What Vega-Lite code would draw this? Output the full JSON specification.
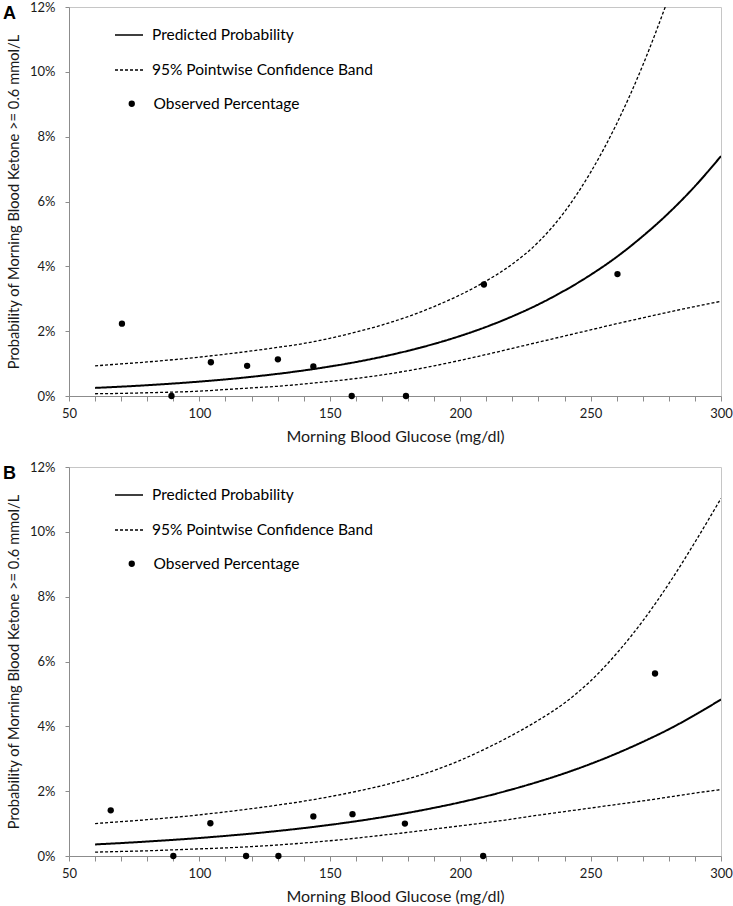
{
  "$schema": "https://vega.github.io/schema/vega-lite/v6.json",
  "background": "white",
  "padding": {"left": 2, "top": 0, "right": 2, "bottom": 0},
  "bounds": "flush",
  "spacing": 71,
  "config": {
    "font": "Lato",
    "view": {"stroke": "#c6c6c6", "strokeWidth": 1},
    "axis": {"domainColor": "#8c8c8c", "tickColor": "#8c8c8c", "grid": false, "labelFont": "Lato", "labelFontSize": 13, "labelColor": "#1a1a1a", "titleFont": "Lato", "titleFontSize": 15, "titleFontWeight": "normal", "titleColor": "#1a1a1a"},
    "line": {"interpolate": "monotone"}
  },
  "datasets": {
    "A": [
      {"x": 60, "pred": 0.250, "lo": 0.07, "hi": 0.93},
      {"x": 70, "pred": 0.288, "lo": 0.08, "hi": 0.99},
      {"x": 80, "pred": 0.333, "lo": 0.10, "hi": 1.05},
      {"x": 90, "pred": 0.385, "lo": 0.12, "hi": 1.12},
      {"x": 100, "pred": 0.444, "lo": 0.15, "hi": 1.20},
      {"x": 110, "pred": 0.512, "lo": 0.20, "hi": 1.29},
      {"x": 120, "pred": 0.592, "lo": 0.25, "hi": 1.39},
      {"x": 130, "pred": 0.683, "lo": 0.30, "hi": 1.50},
      {"x": 140, "pred": 0.788, "lo": 0.37, "hi": 1.62},
      {"x": 150, "pred": 0.909, "lo": 0.45, "hi": 1.78},
      {"x": 160, "pred": 1.048, "lo": 0.54, "hi": 1.97},
      {"x": 170, "pred": 1.209, "lo": 0.65, "hi": 2.19},
      {"x": 180, "pred": 1.395, "lo": 0.78, "hi": 2.45},
      {"x": 190, "pred": 1.608, "lo": 0.93, "hi": 2.76},
      {"x": 200, "pred": 1.852, "lo": 1.10, "hi": 3.12},
      {"x": 210, "pred": 2.133, "lo": 1.28, "hi": 3.55},
      {"x": 220, "pred": 2.457, "lo": 1.47, "hi": 4.07},
      {"x": 230, "pred": 2.826, "lo": 1.66, "hi": 4.75},
      {"x": 240, "pred": 3.252, "lo": 1.85, "hi": 5.68},
      {"x": 250, "pred": 3.737, "lo": 2.04, "hi": 6.90},
      {"x": 260, "pred": 4.29, "lo": 2.23, "hi": 8.40},
      {"x": 270, "pred": 4.93, "lo": 2.41, "hi": 10.2},
      {"x": 280, "pred": 5.65, "lo": 2.59, "hi": 12.3},
      {"x": 290, "pred": 6.47, "lo": 2.76, "hi": null},
      {"x": 300, "pred": 7.40, "lo": 2.92, "hi": null}
    ],
    "pA": [
      {"x": 70.3, "obs": 2.23},
      {"x": 89.3, "obs": 0},
      {"x": 104.4, "obs": 1.04},
      {"x": 118.3, "obs": 0.93},
      {"x": 130.1, "obs": 1.13},
      {"x": 143.7, "obs": 0.91},
      {"x": 158.4, "obs": 0},
      {"x": 179.2, "obs": 0},
      {"x": 209.1, "obs": 3.44},
      {"x": 260.3, "obs": 3.76}
    ],
    "B": [
      {"x": 60, "pred": 0.357, "lo": 0.12, "hi": 1.00},
      {"x": 70, "pred": 0.399, "lo": 0.14, "hi": 1.06},
      {"x": 80, "pred": 0.446, "lo": 0.16, "hi": 1.12},
      {"x": 90, "pred": 0.498, "lo": 0.19, "hi": 1.19},
      {"x": 100, "pred": 0.555, "lo": 0.22, "hi": 1.27},
      {"x": 110, "pred": 0.620, "lo": 0.25, "hi": 1.36},
      {"x": 120, "pred": 0.691, "lo": 0.29, "hi": 1.46},
      {"x": 130, "pred": 0.772, "lo": 0.34, "hi": 1.57},
      {"x": 140, "pred": 0.861, "lo": 0.40, "hi": 1.69},
      {"x": 150, "pred": 0.961, "lo": 0.47, "hi": 1.83},
      {"x": 160, "pred": 1.071, "lo": 0.55, "hi": 1.99},
      {"x": 170, "pred": 1.195, "lo": 0.64, "hi": 2.17},
      {"x": 180, "pred": 1.332, "lo": 0.73, "hi": 2.38},
      {"x": 190, "pred": 1.486, "lo": 0.83, "hi": 2.64},
      {"x": 200, "pred": 1.656, "lo": 0.93, "hi": 2.95},
      {"x": 210, "pred": 1.845, "lo": 1.03, "hi": 3.32},
      {"x": 220, "pred": 2.058, "lo": 1.14, "hi": 3.73},
      {"x": 230, "pred": 2.293, "lo": 1.26, "hi": 4.19},
      {"x": 240, "pred": 2.551, "lo": 1.37, "hi": 4.72},
      {"x": 250, "pred": 2.841, "lo": 1.48, "hi": 5.40},
      {"x": 260, "pred": 3.164, "lo": 1.59, "hi": 6.25},
      {"x": 270, "pred": 3.521, "lo": 1.70, "hi": 7.25},
      {"x": 280, "pred": 3.91, "lo": 1.82, "hi": 8.40},
      {"x": 290, "pred": 4.35, "lo": 1.94, "hi": 9.68},
      {"x": 300, "pred": 4.83, "lo": 2.05, "hi": 11.03}
    ],
    "pB": [
      {"x": 66.0, "obs": 1.41},
      {"x": 90.0, "obs": 0},
      {"x": 104.2, "obs": 1.01},
      {"x": 117.9, "obs": 0},
      {"x": 130.3, "obs": 0},
      {"x": 143.7, "obs": 1.22},
      {"x": 158.7, "obs": 1.29},
      {"x": 178.8, "obs": 1.00},
      {"x": 208.8, "obs": 0},
      {"x": 274.7, "obs": 5.63}
    ]
  },
  "vconcat": [
    {
      "width": 652,
      "height": 389,
      "title": {"text": "A", "anchor": "start", "frame": "group", "dx": -66, "dy": 22, "offset": 0, "baseline": "top", "fontSize": 18, "fontWeight": "bold", "font": "Liberation Sans", "color": "black"},
      "data": {"name": "A"},
      "encoding": {
        "x": {"field": "x", "type": "quantitative", "title": "Morning Blood Glucose (mg/dl)", "scale": {"domain": [50, 300], "nice": false, "zero": false},
          "axis": {"values": [50,60,70,80,90,100,110,120,130,140,150,160,170,180,190,200,210,220,230,240,250,260,270,280,290,300], "labelExpr": "datum.value % 50 == 0 ? datum.value : ''", "tickSize": 5, "labelPadding": 6, "titlePadding": 8, "titleFontSize": 16, "labelFlush": false, "labelOverlap": false}}
      },
      "layer": [
        {
          "mark": {"type": "line", "color": "black", "strokeWidth": 2, "clip": true},
          "encoding": {
            "y": {"field": "pred", "type": "quantitative", "title": "Probability of Morning Blood Ketone >= 0.6 mmol/L", "scale": {"domain": [0, 12], "nice": false},
              "axis": {"values": [0,1,2,3,4,5,6,7,8,9,10,11,12], "labelExpr": "datum.value % 2 == 0 ? datum.value + '%' : ''", "tickSize": 4, "labelPadding": 10, "titlePadding": 8, "titleFontSize": 14.7, "labelOverlap": false, "labelFlush": false}},
            "strokeDash": {"datum": "Predicted Probability", "type": "nominal",
              "scale": {"domain": ["Predicted Probability", "95% Pointwise Confidence Band"], "range": [[1, 0], [3, 2]]},
              "legend": {"orient": "none", "legendX": 45, "legendY": 13, "title": null, "symbolType": "stroke", "symbolSize": 784, "symbolStrokeColor": "black", "symbolStrokeWidth": 1.6, "labelOffset": 8, "rowPadding": 11, "labelFontSize": 15.5, "labelFont": "Lato", "labelColor": "black", "labelLimit": 400, "padding": 0}}
          }
        },
        {
          "transform": [{"fold": ["lo", "hi"]}],
          "mark": {"type": "line", "color": "black", "strokeWidth": 1.3, "clip": true},
          "encoding": {
            "y": {"field": "value", "type": "quantitative", "title": "Probability of Morning Blood Ketone >= 0.6 mmol/L"},
            "detail": {"field": "key", "type": "nominal"},
            "strokeDash": {"datum": "95% Pointwise Confidence Band", "type": "nominal"}
          }
        },
        {
          "data": {"name": "pA"},
          "mark": {"type": "point", "filled": true, "color": "black", "size": 40, "opacity": 1},
          "encoding": {
            "y": {"field": "obs", "type": "quantitative", "title": "Probability of Morning Blood Ketone >= 0.6 mmol/L"},
            "shape": {"datum": "Observed Percentage", "type": "nominal",
              "scale": {"domain": ["Observed Percentage"], "range": ["circle"]},
              "legend": {"orient": "none", "legendX": 55, "legendY": 89, "title": null, "symbolSize": 40, "symbolFillColor": "black", "symbolStrokeWidth": 0, "labelOffset": 14, "labelFontSize": 15.5, "labelFont": "Lato", "labelColor": "black", "labelLimit": 400, "padding": 0}}
          }
        }
      ]
    },
    {
      "width": 652,
      "height": 389,
      "title": {"text": "B", "anchor": "start", "frame": "group", "dx": -66, "dy": 22, "offset": 0, "baseline": "top", "fontSize": 18, "fontWeight": "bold", "font": "Liberation Sans", "color": "black"},
      "data": {"name": "B"},
      "encoding": {
        "x": {"field": "x", "type": "quantitative", "title": "Morning Blood Glucose (mg/dl)", "scale": {"domain": [50, 300], "nice": false, "zero": false},
          "axis": {"values": [50,60,70,80,90,100,110,120,130,140,150,160,170,180,190,200,210,220,230,240,250,260,270,280,290,300], "labelExpr": "datum.value % 50 == 0 ? datum.value : ''", "tickSize": 5, "labelPadding": 6, "titlePadding": 8, "titleFontSize": 16, "labelFlush": false, "labelOverlap": false}}
      },
      "layer": [
        {
          "mark": {"type": "line", "color": "black", "strokeWidth": 2, "clip": true},
          "encoding": {
            "y": {"field": "pred", "type": "quantitative", "title": "Probability of Morning Blood Ketone >= 0.6 mmol/L", "scale": {"domain": [0, 12], "nice": false},
              "axis": {"values": [0,1,2,3,4,5,6,7,8,9,10,11,12], "labelExpr": "datum.value % 2 == 0 ? datum.value + '%' : ''", "tickSize": 4, "labelPadding": 10, "titlePadding": 8, "titleFontSize": 14.7, "labelOverlap": false, "labelFlush": false}},
            "strokeDash": {"datum": "Predicted Probability", "type": "nominal",
              "scale": {"domain": ["Predicted Probability", "95% Pointwise Confidence Band"], "range": [[1, 0], [3, 2]]},
              "legend": {"orient": "none", "legendX": 45, "legendY": 13, "title": null, "symbolType": "stroke", "symbolSize": 784, "symbolStrokeColor": "black", "symbolStrokeWidth": 1.6, "labelOffset": 8, "rowPadding": 11, "labelFontSize": 15.5, "labelFont": "Lato", "labelColor": "black", "labelLimit": 400, "padding": 0}}
          }
        },
        {
          "transform": [{"fold": ["lo", "hi"]}],
          "mark": {"type": "line", "color": "black", "strokeWidth": 1.3, "clip": true},
          "encoding": {
            "y": {"field": "value", "type": "quantitative", "title": "Probability of Morning Blood Ketone >= 0.6 mmol/L"},
            "detail": {"field": "key", "type": "nominal"},
            "strokeDash": {"datum": "95% Pointwise Confidence Band", "type": "nominal"}
          }
        },
        {
          "data": {"name": "pB"},
          "mark": {"type": "point", "filled": true, "color": "black", "size": 40, "opacity": 1},
          "encoding": {
            "y": {"field": "obs", "type": "quantitative", "title": "Probability of Morning Blood Ketone >= 0.6 mmol/L"},
            "shape": {"datum": "Observed Percentage", "type": "nominal",
              "scale": {"domain": ["Observed Percentage"], "range": ["circle"]},
              "legend": {"orient": "none", "legendX": 55, "legendY": 89, "title": null, "symbolSize": 40, "symbolFillColor": "black", "symbolStrokeWidth": 0, "labelOffset": 14, "labelFontSize": 15.5, "labelFont": "Lato", "labelColor": "black", "labelLimit": 400, "padding": 0}}
          }
        }
      ]
    }
  ],
  "resolve": {
    "scale": {"strokeDash": "independent", "shape": "independent"},
    "legend": {"strokeDash": "independent", "shape": "independent"}
  }
}
